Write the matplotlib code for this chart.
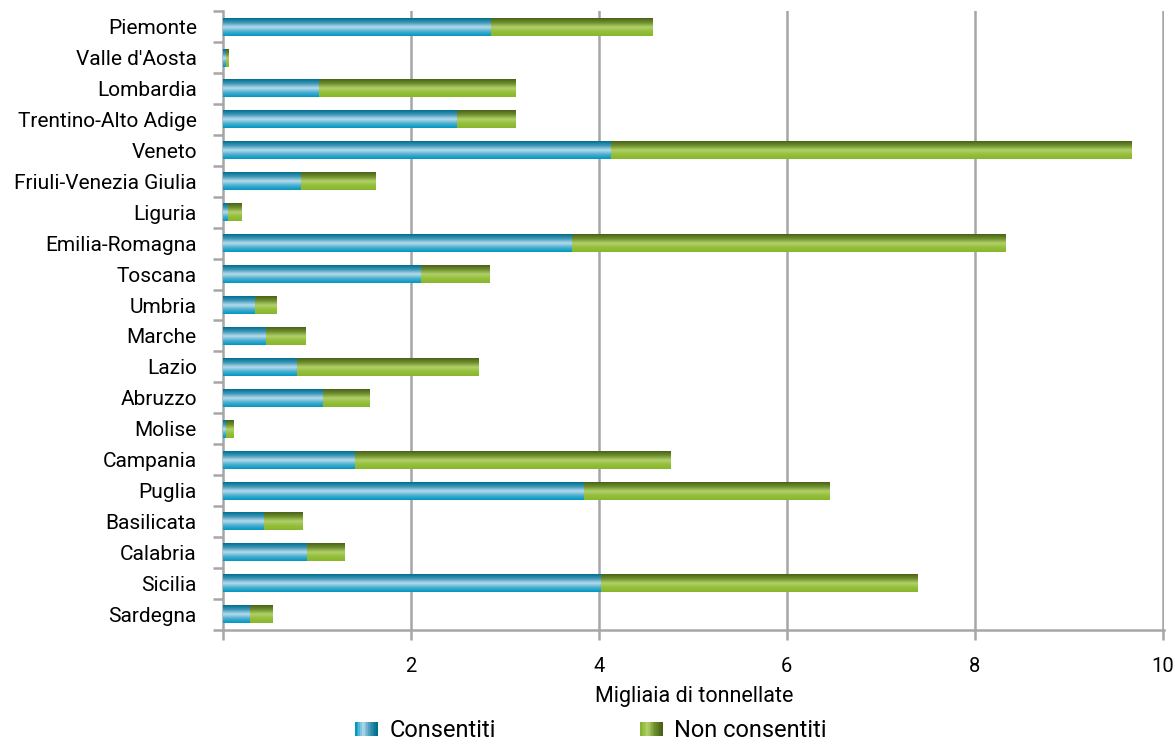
import numpy as np
import matplotlib
matplotlib.use("Agg")
import matplotlib.pyplot as plt
from matplotlib.colors import LinearSegmentedColormap
from matplotlib.patches import Rectangle
from matplotlib.legend_handler import HandlerBase

regions = ["Piemonte", "Valle d'Aosta", "Lombardia", "Trentino-Alto Adige", "Veneto",
           "Friuli-Venezia Giulia", "Liguria", "Emilia-Romagna", "Toscana", "Umbria",
           "Marche", "Lazio", "Abruzzo", "Molise", "Campania", "Puglia", "Basilicata",
           "Calabria", "Sicilia", "Sardegna"]
consentiti = [2.85, 0.03, 1.02, 2.49, 4.13, 0.83, 0.05, 3.71, 2.11, 0.34,
              0.45, 0.79, 1.06, 0.03, 1.40, 3.84, 0.43, 0.89, 4.02, 0.28]
non_consentiti = [1.72, 0.03, 2.09, 0.62, 5.54, 0.79, 0.14, 4.62, 0.73, 0.23,
                  0.42, 1.93, 0.49, 0.08, 3.36, 2.61, 0.41, 0.40, 3.37, 0.24]
xticks = [0, 2, 4, 6, 8, 10]
xticklabels = ["", "2", "4", "6", "8", "10"]
series_names = ["Consentiti", "Non consentiti"]

plt.rcParams['font.family'] = ['Roboto', 'DejaVu Sans']

blue_cmap = LinearSegmentedColormap.from_list(
    "b", ["#006f8e", "#3f97b8", "#b7dcec", "#4aaed0", "#0097c0"])
green_cmap = LinearSegmentedColormap.from_list(
    "g", ["#48621a", "#6f8f2c", "#b1d06c", "#95bf3a", "#88b52e"])
grad = np.linspace(0, 1, 64).reshape(-1, 1)

fig = plt.figure(figsize=(11.75, 7.47), dpi=100)
ax = fig.add_axes([0.19, 0.157, 0.801, 0.828])

y = np.arange(len(regions))
h = 0.58
grid_c = "#a6a6a6"
for xv in xticks[1:]:
    ax.axvline(xv, color=grid_c, lw=1.8, zorder=1)

b1 = ax.barh(y, consentiti, height=h, color="none", zorder=2)
b2 = ax.barh(y, non_consentiti, left=consentiti, height=h, color="none", zorder=2)

for bars, cmap in ((b1, blue_cmap), (b2, green_cmap)):
    for p in bars:
        x0, y0 = p.get_x(), p.get_y()
        w, hh = p.get_width(), p.get_height()
        ax.imshow(grad, cmap=cmap, aspect="auto", interpolation="bilinear",
                  extent=(x0, x0 + w, y0 + hh, y0), origin="upper", zorder=3)

ax.set_xlim(0, 10.02)
ax.set_ylim(len(regions) - 0.5, -0.5)
ax.set_yticks(y)
ax.set_yticklabels(regions, fontsize=15)
ax.set_yticks(np.arange(-0.5, len(regions), 1), minor=True)
ax.tick_params(axis="y", which="major", length=0, pad=19)
ax.tick_params(axis="y", which="minor", length=7, width=1.8, color=grid_c)
ax.set_xticks(xticks)
ax.set_xticklabels(xticklabels, fontsize=14.5)
ax.tick_params(axis="x", length=7, width=1.8, color=grid_c, pad=13)
ax.set_xlabel("Migliaia di tonnellate", fontsize=15.5, labelpad=7)

for s in ("top", "right"):
    ax.spines[s].set_visible(False)
for s in ("left", "bottom"):
    ax.spines[s].set_color(grid_c)
    ax.spines[s].set_linewidth(1.8)


class GradHandler(HandlerBase):
    def __init__(self, cmap):
        super().__init__()
        self.cmap = cmap

    def create_artists(self, legend, orig_handle, xdescent, ydescent, width, height, fontsize, trans):
        n = 14
        arts = []
        for i in range(n):
            r = Rectangle((-xdescent + width * i / n, -ydescent), width / n + 0.3, height,
                          facecolor=self.cmap(i / (n - 1)), edgecolor="none", transform=trans)
            arts.append(r)
        return arts


leg_blue = LinearSegmentedColormap.from_list("lb", ["#0097c0", "#b7dcec", "#3f97b8", "#006f8e"])
leg_green = LinearSegmentedColormap.from_list("lg", ["#88b52e", "#b1d06c", "#6f8f2c", "#48621a"])
h1 = Rectangle((0, 0), 1, 1)
h2 = Rectangle((0, 0), 1, 1)
fig.legend([h1, h2], series_names, loc="lower center", bbox_to_anchor=(0.503, -0.022),
           ncol=2, frameon=False, fontsize=17, handlelength=0.95, handleheight=0.55,
           columnspacing=6.1, handletextpad=0.5,
           handler_map={h1: GradHandler(leg_blue), h2: GradHandler(leg_green)})

fig.savefig("out.png", dpi=100)
